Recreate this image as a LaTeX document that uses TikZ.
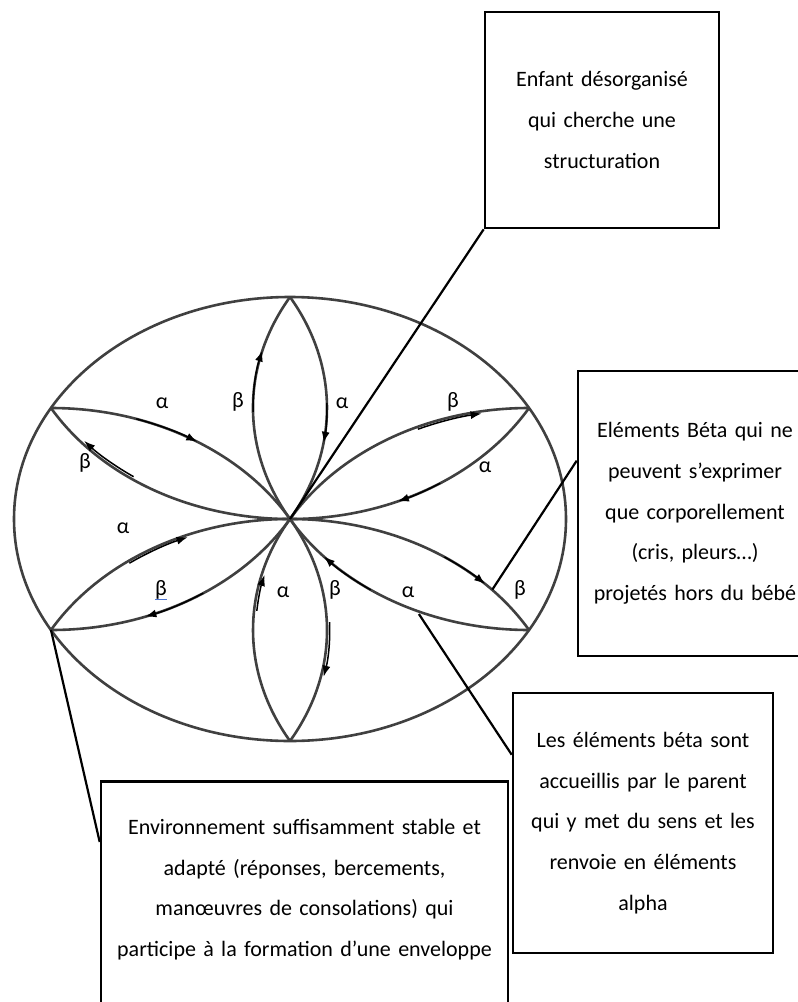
\documentclass[tikz,border=0pt]{standalone}
\usepackage{fontspec}
\setmainfont{Carlito}
\usetikzlibrary{arrows.meta}
\newcommand{\boxFont}{\fontsize{22}{40.7}\selectfont}
\newcommand{\greekFont}{\fontsize{22}{26}\selectfont}
\definecolor{spellBlue}{HTML}{4A72D0}
\tikzset{
  petal/.style={draw=black!75, line width=2.6pt},
  flow/.style={black, line width=1.5pt, -{Latex[length=11pt,width=8pt]}},
  legend/.style={draw, line width=2.6pt, font=\boxFont, align=center, inner sep=0pt},
  link/.style={black, line width=2.2pt},
  greek/.style={font=\greekFont, inner sep=0pt}
}
\begin{document}
\begin{tikzpicture}[x=1pt, y=-1pt]
\useasboundingbox (0,0) rectangle (798,1002);
% rosette in the envelope
\begin{scope}[shift={(290,519)}, xscale=276, yscale=-222]
  \draw[petal] (0,0) circle[radius=1];
  \foreach \a in {30,90,...,330}
    \draw[petal] (\a:1) ++(\a+120:1) arc[start angle=\a+120, end angle=\a+240, radius=1];
  \coordinate (centre) at (0,0);
  \coordinate (tipLL) at (210:1);
  \coordinate (betaEnd) at (0.733,-0.318);
  \coordinate (alphaEnd) at (0.467,-0.428);
  % arrows along the petals
  \draw[flow] (30:1) ++(181:1) arc[start angle=181, end angle=165, radius=1];
  \draw[flow] (150:1) ++(1.3:1) arc[start angle=1.3, end angle=-9, radius=1];
  \draw[flow] (210:1) ++(72:1) arc[start angle=72, end angle=58, radius=1];
  \draw[flow] (90:1) ++(235:0.988) arc[start angle=235, end angle=221, radius=0.988];
  \draw[flow] (270:1) ++(126:0.99) arc[start angle=126, end angle=112, radius=0.99];
  \draw[flow] (150:1) ++(-56.5:1) arc[start angle=-56.5, end angle=-70, radius=1];
  \draw[flow] (330:1) ++(175:0.99) arc[start angle=175, end angle=165.5, radius=0.99];
  \draw[flow] (210:1) ++(2:1.01) arc[start angle=2, end angle=-12, radius=1.01];
  \draw[flow] (270:1) ++(56:1) arc[start angle=56, end angle=45, radius=1];
  \draw[flow] (30:1) ++(235:1) arc[start angle=235, end angle=222, radius=1];
  \draw[flow] (330:1) ++(114:0.99) arc[start angle=114, end angle=100, radius=0.99];
  \draw[flow] (90:1) ++(-57:1) arc[start angle=-57, end angle=-67, radius=1];
\end{scope}
% labels
\node[greek] (a1) at (162,403) {α};
\node[greek] (b1) at (238,402) {β};
\node[greek] (a2) at (342,403) {α};
\node[greek] (b2) at (453,402) {β};
\node[greek] (b3) at (85,463) {β};
\node[greek] (a3) at (485,467) {α};
\node[greek] (a4) at (123,528) {α};
\node[greek] (b4) at (161,590) {β};
\node[greek] (a5) at (283,592) {α};
\node[greek] (b5) at (335,590) {β};
\node[greek] (a6) at (408,592) {α};
\node[greek] (b6) at (520,590) {β};
\draw[spellBlue, line width=1pt] ([yshift=-4pt]b4.base west) -- ([yshift=-4pt]b4.base east);
% boxes
\node[legend, text width=234pt, minimum height=216pt] (enfant) at (602,120)
  {Enfant désorganisé\\qui cherche une\\structuration};
\node[legend, text width=234pt, minimum height=285pt] (beta) at (695,513.5)
  {Eléments Béta qui ne\\peuvent s’exprimer\\que corporellement\\(cris, pleurs…)\\projetés hors du bébé};
\node[legend, text width=260pt, minimum height=260pt] (accueil) at (643,823)
  {Les éléments béta sont\\accueillis par le parent\\qui y met du sens et les\\renvoie en éléments\\alpha};
\node[legend, text width=407pt, anchor=north, inner ysep=38pt, text depth=200pt] (env) at (304.5,780)
  {Environnement suffisamment stable et\\adapté (réponses, bercements,\\manœuvres de consolations) qui\\participe à la formation d’une enveloppe};
% connectors
\draw[link] (enfant.south west) -- (centre);
\draw[link] ([yshift=-91pt]beta.north west) -- (betaEnd);
\draw[link] ([yshift=-63pt]accueil.north west) -- (alphaEnd);
\draw[link] (tipLL) -- ([yshift=-62pt]env.north west);
\end{tikzpicture}
\end{document}
